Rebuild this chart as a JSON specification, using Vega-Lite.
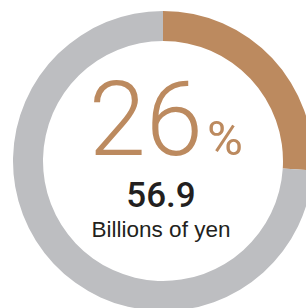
{
  "$schema": "https://vega.github.io/schema/vega-lite/v6.json",
  "width": 326,
  "height": 322,
  "padding": 0,
  "autosize": {"type": "none"},
  "background": "white",
  "config": {"view": {"stroke": null}},
  "data": {
    "values": [
      {"category": "share", "value": 26, "amount": 56.9, "unit": "Billions of yen", "rank": 1},
      {"category": "other", "value": 74, "rank": 2}
    ]
  },
  "layer": [
    {
      "mark": {"type": "arc", "radius": 150, "radius2": 120},
      "encoding": {
        "theta": {"field": "value", "type": "quantitative", "stack": true},
        "order": {"field": "rank", "type": "quantitative"},
        "color": {
          "field": "category",
          "type": "nominal",
          "scale": {"domain": ["share", "other"], "range": ["#BC8A5F", "#BDBEC1"]},
          "legend": null
        }
      }
    },
    {
      "transform": [{"filter": "datum.category === 'share'"}],
      "mark": {"type": "text", "font": "Roboto", "fontWeight": 300, "fontSize": 103, "align": "right", "baseline": "alphabetic", "dx": 40, "dy": -6, "color": "#BC8A5F"},
      "encoding": {"text": {"field": "value", "type": "quantitative"}}
    },
    {
      "transform": [{"filter": "datum.category === 'share'"}],
      "mark": {"type": "text", "font": "Roboto", "fontWeight": 400, "fontSize": 49, "align": "left", "baseline": "alphabetic", "dx": 44, "dy": -6, "color": "#BC8A5F", "text": "%"},
      "encoding": {}
    },
    {
      "transform": [{"filter": "datum.category === 'share'"}],
      "mark": {"type": "text", "font": "Roboto", "fontWeight": 500, "fontSize": 35, "align": "center", "baseline": "alphabetic", "dx": -2, "dy": 46, "color": "#231F20"},
      "encoding": {"text": {"field": "amount", "type": "quantitative", "format": ".1f"}}
    },
    {
      "transform": [{"filter": "datum.category === 'share'"}],
      "mark": {"type": "text", "font": "Liberation Sans", "fontSize": 22.5, "align": "center", "baseline": "alphabetic", "dx": -2, "dy": 76, "color": "#231F20"},
      "encoding": {"text": {"field": "unit", "type": "nominal"}}
    }
  ]
}
